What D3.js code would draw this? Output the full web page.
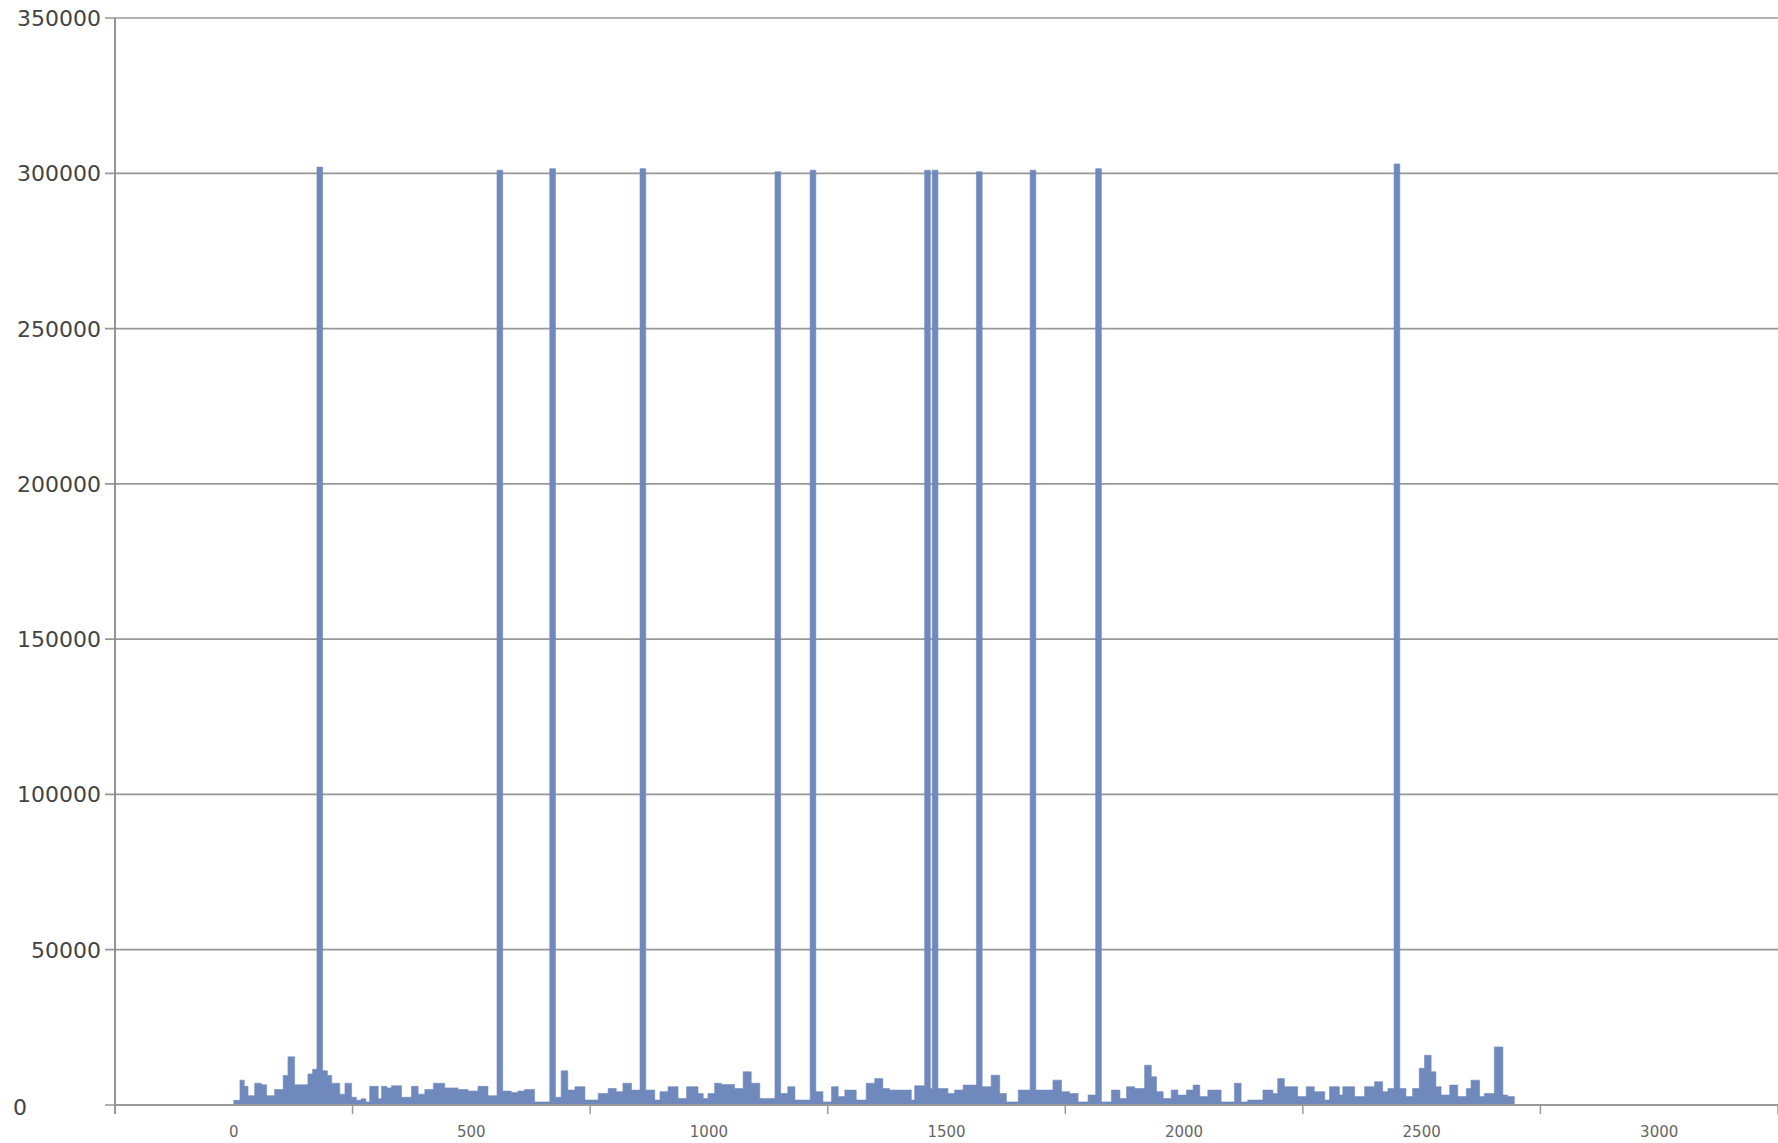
<!DOCTYPE html>
<html>
<head>
<meta charset="utf-8">
<script src="https://cdnjs.cloudflare.com/ajax/libs/d3/7.8.5/d3.min.js"></script>
<style>
  body { margin: 0; background: #fff; }
  svg { display: block; }
  .ylab { font-family: "DejaVu Sans", sans-serif; font-size: 22px; fill: #444; }
  .xlab { font-family: "DejaVu Sans", sans-serif; font-size: 15px; fill: #666; }
</style>
</head>
<body>
<svg id="chart" width="1778" height="1143"></svg>
<script>
// step boundaries (x where each step starts) and the height of each step
var stepX = [0,13,22,30,44,58,69,86,104,114,128,156,166,175,187,197,206,223,234,248,258,268,278,286,304,311,322,332,353,374,388,402,420,444,472,493,514,535,554,566,584,598,612,633,665,677,689,703,718,739,767,788,805,819,837,855,867,886,897,914,935,953,977,988,998,1012,1026,1054,1072,1089,1107,1139,1151,1166,1181,1213,1225,1240,1258,1272,1286,1310,1331,1349,1366,1380,1426,1433,1454,1466,1470,1482,1503,1517,1535,1563,1575,1594,1612,1626,1651,1676,1688,1724,1742,1759,1777,1798,1814,1826,1847,1865,1879,1896,1917,1931,1942,1956,1973,1987,2005,2019,2033,2050,2078,2106,2120,2134,2166,2187,2197,2211,2239,2257,2274,2296,2306,2327,2334,2359,2380,2401,2418,2429,2442,2454,2467,2481,2495,2506,2520,2530,2541,2559,2576,2594,2604,2622,2632,2653,2671,2681,2695];
var stepY = [1500,8000,6000,3000,7000,6500,3000,5000,9500,15500,6500,10000,11500,302000,11000,9500,7000,3500,7000,2500,1500,2000,1000,6000,2000,6000,5500,6200,2500,6000,3500,5000,7000,5500,5000,4500,6000,3000,301000,4500,4000,4500,5000,1000,301500,2500,11000,4800,5900,1600,3700,5300,4300,7000,4800,301500,4800,1600,4300,5900,2100,5900,3700,2100,3700,7000,6600,5300,10700,7000,2100,300500,3700,5900,1600,301000,4300,1000,5900,2700,4800,1600,7000,8500,5300,4800,1600,6200,301000,5300,301000,5300,3700,4800,6400,300500,5900,9600,3700,1000,4800,301000,4800,8000,4300,3700,1000,3200,301500,1000,4800,2100,5900,5300,12800,9100,4300,2100,4800,3200,4800,6400,2700,4800,1000,7000,1000,1600,4800,3700,8500,5900,2700,5900,4300,1600,5900,3200,5900,2700,5900,7500,4300,5300,303000,5300,2700,5300,11800,16000,10700,5900,3200,6400,2700,5300,8000,2700,3700,18700,3200,2700];

var yTicks = [0,50000,100000,150000,200000,250000,300000,350000];
var xTickMarks = [-250,250,750,1250,1750,2250,2750,3250];
var xLabels = [0,500,1000,1500,2000,2500,3000];

var svg = d3.select("#chart");

var xScale = d3.scaleLinear()
.domain([-250,3250])
.range([115,1778]);

var yScale = d3.scaleLinear()
.domain([0,350000])
.range([1105,18]);

//Gridlines
svg.append("g")
.selectAll("line")
.data(yTicks)
.enter()
.append("line")
.attr("x1",105)
.attr("x2",1778)
.attr("y1",function(d){ return yScale(d); })
.attr("y2",function(d){ return yScale(d); })
.attr("stroke","#979797")
.attr("stroke-width",1.7);

//Y labels, the zero sits apart at the far left like in the original
svg.append("g")
.selectAll("text")
.data(yTicks)
.enter()
.append("text")
.attr("class","ylab")
.attr("x",function(d){ return d == 0 ? 13 : 101; })
.attr("y",function(d){ return yScale(d) + (d == 0 ? 10 : 8); })
.attr("text-anchor",function(d){ return d == 0 ? "start" : "end"; })
.text(function(d){ return d; });

//Data area
var points = stepX.map(function(x,i){ return [x, i < stepY.length ? stepY[i] : 0]; });

var area = d3.area()
.curve(d3.curveStepAfter)
.x(function(d){ return xScale(d[0]); })
.y0(yScale(0))
.y1(function(d){ return yScale(d[1]); });

svg.append("path")
.datum(points)
.attr("d",area)
.attr("fill","#7089bd")
.attr("stroke","#7089bd")
.attr("stroke-width",0.6)
.attr("stroke-linejoin","round");

//Axis lines
svg.append("line")
.attr("x1",xScale(-250))
.attr("x2",xScale(-250))
.attr("y1",yScale(350000))
.attr("y2",yScale(0) + 9)
.attr("stroke","#8a8a8a")
.attr("stroke-width",1.8);

svg.append("line")
.attr("x1",xScale(-250))
.attr("x2",1778)
.attr("y1",yScale(0))
.attr("y2",yScale(0))
.attr("stroke","#9a9a9a")
.attr("stroke-width",1.8);

svg.append("g")
.selectAll("line")
.data(xTickMarks)
.enter()
.append("line")
.attr("x1",function(d){ return xScale(d); })
.attr("x2",function(d){ return xScale(d); })
.attr("y1",yScale(0))
.attr("y2",yScale(0) + 9)
.attr("stroke","#9a9a9a")
.attr("stroke-width",1.5);

svg.append("g")
.selectAll("text")
.data(xLabels)
.enter()
.append("text")
.attr("class","xlab")
.attr("x",function(d){ return xScale(d); })
.attr("y",1137)
.attr("text-anchor","middle")
.text(function(d){ return d; });
</script>
</body>
</html>
